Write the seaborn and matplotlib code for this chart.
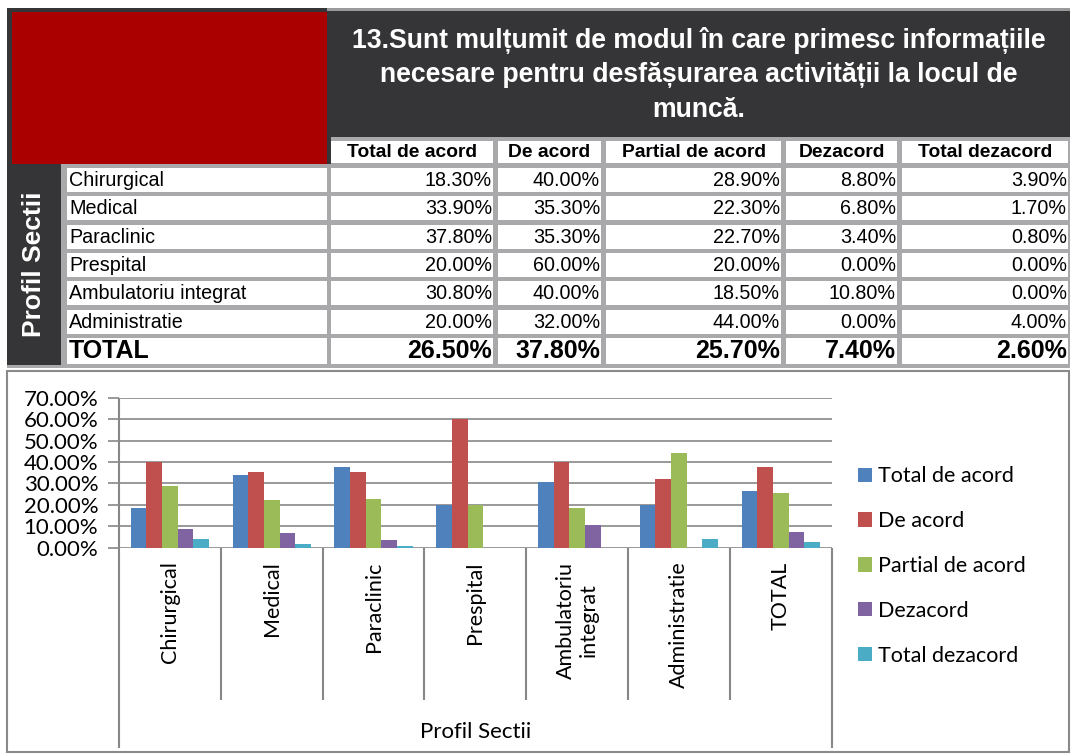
import numpy as np
import pandas as pd
import matplotlib
matplotlib.use('Agg')
import matplotlib.pyplot as plt
from matplotlib.patches import Rectangle
from matplotlib.ticker import PercentFormatter
import seaborn as sns

# dados
categorias = ['Chirurgical', 'Medical', 'Paraclinic', 'Prespital',
              'Ambulatoriu integrat', 'Administratie', 'TOTAL']
series = ['Total de acord', 'De acord', 'Partial de acord', 'Dezacord', 'Total dezacord']
total_de_acord = [18.3, 33.9, 37.8, 20.0, 30.8, 20.0, 26.5]
de_acord = [40.0, 35.3, 35.3, 60.0, 40.0, 32.0, 37.8]
partial_de_acord = [28.9, 22.3, 22.7, 20.0, 18.5, 44.0, 25.7]
dezacord = [8.8, 6.8, 3.4, 0.0, 10.8, 0.0, 7.4]
total_dezacord = [3.9, 1.7, 0.8, 0.0, 0.0, 4.0, 2.6]
yticks = [0, 10, 20, 30, 40, 50, 60, 70]
titlu = ('13.Sunt mulțumit de modul în care primesc informațiile\n'
         'necesare pentru desfășurarea activității la locul de\nmuncă.')

valori = [total_de_acord, de_acord, partial_de_acord, dezacord, total_dezacord]
culori = ['#4F81BD', '#C0504D', '#9BBB59', '#8064A2', '#4BACC6']

df = pd.DataFrame({
    'Profil': np.repeat(categorias, len(series)),
    'Serie': series * len(categorias),
    'Valoare': np.array(valori).T.ravel(),
})

W, H = 1072, 755
fig = plt.figure(figsize=(W / 100, H / 100), dpi=100)
fig.patch.set_facecolor('white')

# fundal in pixeli pentru tabel
bg = fig.add_axes([0, 0, 1, 1], zorder=0)
bg.set_xlim(0, W)
bg.set_ylim(H, 0)
bg.axis('off')

dark = '#353537'
gri = '#a9a9ab'
bg.add_patch(Rectangle((7, 8), 1063, 360, color=gri, lw=0))
bg.add_patch(Rectangle((7, 8), 1063, 129, color=dark, lw=0))
bg.add_patch(Rectangle((7, 8), 1063, 3, color='#9a9a9a', lw=0))
bg.add_patch(Rectangle((7, 8), 320, 156, color=dark, lw=0))
bg.add_patch(Rectangle((12, 12), 315, 152, color='#aa0000', lw=0))
bg.add_patch(Rectangle((327, 135), 4, 29, color=dark, lw=0))
bg.add_patch(Rectangle((7, 164), 54, 201, color=dark, lw=0))

bg.text(699, 75, titlu, color='white', fontsize=19.2, fontweight='bold',
        family=['Liberation Sans', 'DejaVu Sans'], ha='center', va='center',
        linespacing=1.42)
bg.text(34, 264, 'Profil Sectii', color='white', fontsize=19, fontweight='bold',
        family='Liberation Sans', ha='center', va='center', rotation=90)

col_x = [(331, 493), (498, 601), (606, 781), (786, 897), (902, 1068)]
lab_x = (67, 327)
row_top = 168
row_pas = 28.33
row_h = 24

for (x0, x1), nume in zip(col_x, series):
    bg.add_patch(Rectangle((x0, 141), x1 - x0, 22, color='white', lw=0))
    bg.text((x0 + x1) / 2, 152.5, nume, fontsize=13.9, fontweight='bold',
            family='Liberation Sans', ha='center', va='center')

for i, cat in enumerate(categorias):
    y0 = row_top + i * row_pas
    h = row_h if i < len(categorias) - 1 else 26
    total = cat == 'TOTAL'
    fs = 18 if total else 14.2
    fw = 'bold' if total else 'normal'
    bg.add_patch(Rectangle((lab_x[0], y0), lab_x[1] - lab_x[0], h, color='white', lw=0))
    bg.text(lab_x[0] + 2, y0 + h / 2 + 0.5, cat, fontsize=fs, fontweight=fw,
            family='Liberation Sans', ha='left', va='center')
    for j, (x0, x1) in enumerate(col_x):
        bg.add_patch(Rectangle((x0, y0), x1 - x0, h, color='white', lw=0))
        bg.text(x1 - 1, y0 + h / 2 + 0.5, f'{valori[j][i]:.2f}%', fontsize=fs,
                fontweight=fw, family='Liberation Sans', ha='right', va='center')

# chenar grafic
bg.add_patch(Rectangle((7, 371), 1062, 381, fill=False, ec='#8a8a8a', lw=1.5))

# grafic
ax_l, ax_r, ax_b, ax_t = 119, 831.7, 547.7, 397.7
ax = fig.add_axes([ax_l / W, (H - ax_b) / H, (ax_r - ax_l) / W, (ax_b - ax_t) / H], zorder=2)
ax.patch.set_alpha(0)

sns.barplot(data=df, x='Profil', y='Valoare', hue='Serie', order=categorias,
            hue_order=series, palette=culori, width=0.77, saturation=1,
            linewidth=0, ax=ax)

font_g = 'Lato'
gc = '#878787'
ax.set_ylim(0, 70)
ax.set_xlim(-0.5, len(categorias) - 0.5)
ax.set_yticks(yticks)
ax.yaxis.set_major_formatter(PercentFormatter(xmax=100, decimals=2))
ax.yaxis.grid(True, color=gc, lw=1.2)
ax.set_axisbelow(True)
for s in ax.spines.values():
    s.set_visible(False)
ax.tick_params(axis='y', length=8, width=1.2, color=gc, pad=7, labelsize=16)
ax.tick_params(axis='x', length=0, pad=10, labelsize=15.5)
for t in ax.get_yticklabels():
    t.set_family(font_g)

ax.set_xticks(range(len(categorias)))
ax.set_xticklabels([c.replace(' ', '\n') for c in categorias], rotation=90,
                   family=font_g, va='top', ha='center')

# linii separatoare ale categoriilor
tr = ax.get_xaxis_transform()
jos_lung = -(748 - ax_b) / (ax_b - ax_t)
jos_scurt = -(700 - ax_b) / (ax_b - ax_t)
ax.vlines([-0.5], jos_lung, 1, transform=tr, color=gc, lw=1.5, clip_on=False)
ax.vlines([len(categorias) - 0.5], jos_lung, 0, transform=tr, color=gc, lw=1.5, clip_on=False)
ax.vlines(np.arange(len(categorias) - 1) + 0.5, jos_scurt, 0, transform=tr,
          color=gc, lw=1.5, clip_on=False)

ax.set_ylabel('')
ax.set_xlabel('Profil Sectii', fontsize=16, family=font_g)
ax.xaxis.set_label_coords(0.5, -1.16)

handles, labels = ax.get_legend_handles_labels()
ax.legend(handles, labels, loc='center left', bbox_to_anchor=(858 / W, (H - 566) / H),
          bbox_transform=fig.transFigure, frameon=False, prop={'family': font_g, 'size': 15.5},
          handlelength=0.65, handleheight=0.65, handletextpad=0.3, labelspacing=1.15,
          borderpad=0, borderaxespad=0)

fig.savefig('out.png', dpi=100)
